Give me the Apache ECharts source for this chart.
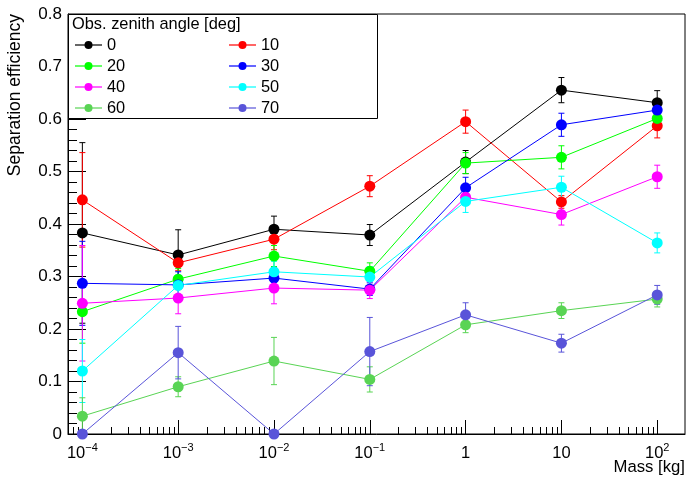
<!DOCTYPE html>
<html>
<head>
<meta charset="utf-8">
<script src="https://cdn.jsdelivr.net/npm/echarts@6/dist/echarts.min.js"></script>
<style>
html,body{margin:0;padding:0;background:#fff;}
#chart{width:687px;height:480px;}
</style>
</head>
<body>
<div id="chart"></div>
<script>
// ---- data ----
const massValues = [1e-4, 1e-3, 1e-2, 1e-1, 1, 10, 100];
const angleNames = ['0', '10', '20', '30', '40', '50', '60', '70'];
const eff0  = [0.383, 0.341, 0.390, 0.379, 0.518, 0.655, 0.631];
const err0  = [0.172, 0.048, 0.025, 0.020, 0.022, 0.024, 0.023];
const eff10 = [0.446, 0.326, 0.371, 0.472, 0.595, 0.442, 0.587];
const err10 = [0.090, 0.015, 0.020, 0.020, 0.022, 0.012, 0.023];
const eff20 = [0.233, 0.295, 0.339, 0.310, 0.516, 0.527, 0.601];
const err20 = [0.060, 0.020, 0.020, 0.016, 0.020, 0.022, 0.020];
const eff30 = [0.287, 0.284, 0.297, 0.276, 0.469, 0.589, 0.617];
const err30 = [0.080, 0.025, 0.020, 0.012, 0.020, 0.022, 0.020];
const eff40 = [0.249, 0.259, 0.278, 0.274, 0.451, 0.418, 0.490];
const err40 = [0.110, 0.030, 0.030, 0.016, 0.015, 0.020, 0.022];
const eff50 = [0.120, 0.283, 0.309, 0.299, 0.443, 0.470, 0.364];
const err50 = [0.060, 0.020, 0.020, 0.020, 0.021, 0.021, 0.019];
const eff60 = [0.034, 0.090, 0.139, 0.104, 0.208, 0.235, 0.257];
const err60 = [0.035, 0.019, 0.045, 0.024, 0.015, 0.015, 0.015];
const eff70 = [0.000, 0.155, 0.000, 0.157, 0.227, 0.173, 0.265];
const err70 = [0.000, 0.050, 0.000, 0.065, 0.023, 0.017, 0.018];
const seriesColors = ['#000000', '#ff0000', '#00ff00', '#0000ff', '#ff00ff', '#00ffff', '#59d454', '#5954d9'];

const xTickValues = [1e-4, 1e-3, 1e-2, 1e-1, 1, 10, 100];
const xTickLabels = ['10^-4', '10^-3', '10^-2', '10^-1', '1', '10', '10^2'];
const xMinorTickValues = [8e-5, 9e-5];
[1e-4, 1e-3, 1e-2, 1e-1, 1, 10].forEach(d => { for (let k = 2; k <= 9; k++) xMinorTickValues.push(+(k * d).toPrecision(3)); });

const legendTitle = 'Obs. zenith angle [deg]';
const xTitle = 'Mass [kg]';
const yTitle = 'Separation efficiency';

// ---- chart ----
const FONT = 'Liberation Sans, Arial, Helvetica, sans-serif';
const effs = [eff0, eff10, eff20, eff30, eff40, eff50, eff60, eff70];
const errs = [err0, err10, err20, err30, err40, err50, err60, err70];

const xMin = Math.pow(10, -4.15);
const xMax = Math.pow(10, 2.29);

function xLabelFmt(v) {
  let idx = 0, best = Infinity;
  xTickValues.forEach((t, i) => { const d = Math.abs(Math.log10(t) - Math.log10(v)); if (d < best) { best = d; idx = i; } });
  const lab = xTickLabels[idx];
  if (lab.indexOf('^') >= 0) {
    const parts = lab.split('^');
    return '{b|' + parts[0] + '}{s|' + parts[1].replace('-', '\u2212') + '}';
  }
  return '{b|' + lab + '}';
}

const series = [];
angleNames.forEach((name, i) => {
  const color = seriesColors[i];
  series.push({
    name: name + ' err',
    type: 'custom',
    xAxisIndex: 0, yAxisIndex: 0,
    z: 2,
    clip: true,
    silent: true,
    encode: { x: 0, y: 1 },
    data: massValues.map((m, j) => [m, effs[i][j], errs[i][j]]),
    renderItem: function (params, api) {
      const x = api.value(0), y = api.value(1), e = api.value(2);
      if (!e) return null;
      const top = api.coord([x, y + e]);
      const bot = api.coord([x, Math.max(y - e, 0)]);
      const st = { stroke: color, lineWidth: 1 };
      return {
        type: 'group',
        children: [
          { type: 'line', shape: { x1: top[0], y1: top[1], x2: bot[0], y2: bot[1] }, style: st },
          { type: 'line', shape: { x1: top[0] - 3, y1: top[1], x2: top[0] + 3, y2: top[1] }, style: st },
          { type: 'line', shape: { x1: bot[0] - 3, y1: bot[1], x2: bot[0] + 3, y2: bot[1] }, style: st }
        ]
      };
    }
  });
  series.push({
    name: name,
    type: 'line',
    xAxisIndex: 0, yAxisIndex: 0,
    z: 3,
    symbol: 'circle',
    symbolSize: 11,
    itemStyle: { color: color },
    lineStyle: { color: color, width: 1 },
    data: massValues.map((m, j) => [m, effs[i][j]]),
    animation: false
  });
});

const legendCommon = {
  orient: 'vertical',
  z: 20,
  itemWidth: 27,
  itemHeight: 10,
  itemGap: 5,
  padding: 0,
  lineStyle: { width: 2, opacity: 0.6 },
  textStyle: { fontSize: 16.4, fontFamily: FONT, color: '#000' },
  selectedMode: false
};

const option = {
  animation: false,
  backgroundColor: '#fff',
  grid: { left: 68, right: 2, top: 14, bottom: 46, show: true, borderColor: '#000', borderWidth: 1, backgroundColor: 'transparent' },
  xAxis: [{
    type: 'log',
    min: xMin, max: xMax,
    logBase: 10,
    axisLine: { show: true, lineStyle: { color: '#000', width: 1 } },
    axisTick: { show: true, inside: true, length: 14, lineStyle: { color: '#000' }, customValues: xTickValues },
    axisLabel: {
      show: true, margin: 8, customValues: xTickValues,
      formatter: xLabelFmt,
      rich: {
        b: { fontSize: 16.5, fontFamily: FONT, color: '#000', verticalAlign: 'bottom', padding: [3, 0, 0, 0] },
        s: { fontSize: 11, fontFamily: FONT, color: '#000', verticalAlign: 'top' }
      }
    },
    splitLine: { show: false },
    minorTick: { show: false }
  }, {
    type: 'log',
    min: xMin, max: xMax,
    logBase: 10,
    position: 'bottom',
    axisLine: { show: false },
    axisTick: { show: true, inside: true, length: 7, lineStyle: { color: '#000' }, customValues: xMinorTickValues },
    axisLabel: { show: false },
    splitLine: { show: false }
  }],
  yAxis: [{
    type: 'value',
    min: 0, max: 0.8, interval: 0.1,
    axisLine: { show: true, lineStyle: { color: '#000', width: 1 } },
    axisTick: { show: true, inside: true, length: 18, lineStyle: { color: '#000' } },
    minorTick: { show: true, splitNumber: 5, length: 9, lineStyle: { color: '#000' } },
    axisLabel: { fontSize: 17, fontFamily: FONT, color: '#000', margin: 6, formatter: v => String(+v.toFixed(1)) },
    splitLine: { show: false }
  }],
  legend: [
    Object.assign({ left: 74, top: 37, data: ['0', '20', '40', '60'] }, legendCommon),
    Object.assign({ left: 228, top: 37, data: ['10', '30', '50', '70'] }, legendCommon)
  ],
  graphic: [
    { type: 'rect', z: 10, shape: { x: 68.5, y: 14.5, width: 309, height: 104 }, style: { fill: '#fff', stroke: '#000', lineWidth: 1 } },
    { type: 'text', z: 11, x: 72, y: 24, style: { text: legendTitle, font: '16.4px ' + FONT, fill: '#000', textVerticalAlign: 'middle', textAlign: 'left' } },
    { type: 'text', z: 11, x: 685, y: 467.5, style: { text: xTitle, font: '16.7px ' + FONT, fill: '#000', textVerticalAlign: 'middle', textAlign: 'right' } },
    { type: 'text', z: 11, x: 15.5, y: 14, rotation: Math.PI / 2, style: { text: yTitle, font: '17.5px ' + FONT, fill: '#000', textVerticalAlign: 'middle', textAlign: 'right' } }
  ],
  series: series
};

const chart = echarts.init(document.getElementById('chart'), null, { renderer: 'canvas' });
chart.setOption(option);
</script>
</body>
</html>
